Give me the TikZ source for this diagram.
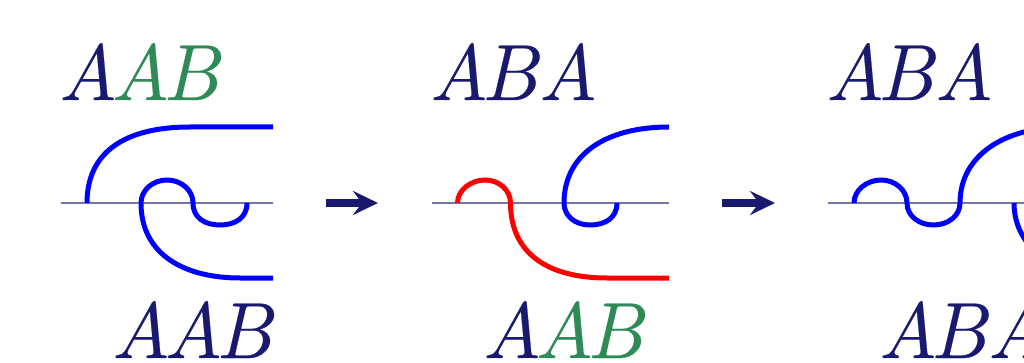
\documentclass[tikz,border=0pt]{standalone}
\usetikzlibrary{arrows.meta}
\definecolor{navyink}{HTML}{191970}
\definecolor{seaink}{HTML}{2E8B57}
\newcommand{\heavy}{\special{pdf:code 2 Tr 0.03 w}}
\tikzset{
  word/.style={anchor=base west,inner sep=0pt,outer sep=0pt,xscale=7.45,yscale=7.95,text=navyink},
  axisline/.style={draw=navyink,opacity=.6,line width=1.3pt},
  strand/.style={line width=5pt,line cap=butt},
  bluestrand/.style={strand,draw=blue},
  redstrand/.style={strand,draw=red},
  step arrow/.style={draw=navyink,line width=7.5pt,-{Stealth[length=25pt,width=24pt,inset=9pt,fill=navyink]}},
}
\newcommand{\gr}[1]{{\color{seaink}#1}}
\newcommand{\kk}{\kern-.47pt}
\begin{document}
\begin{tikzpicture}[x=1pt,y=-1pt]
\useasboundingbox (0,0) rectangle (1024,363);
\clip (0,0) rectangle (1024,363);
% words
\node[word] (t1) at (60,100) {\heavy$A\kk\gr{A\kk B}$};
\node[word] (b1) at (113,358) {\heavy$A\kk A\kk B$};
\node[word] (t2) at (431,100) {\heavy$A\kk B\kk A$};
\node[word] (b2) at (484,358) {\heavy$A\kk\gr{A\kk B}$};
\node[word] (t3) at (827,100) {\heavy$A\kk B\kk A$};
\node[word] (b3) at (880,358) {\heavy$A\kk B\kk A$};
% axes
\coordinate (a1l) at (61,203); \coordinate (a1r) at (273,203);
\coordinate (a2l) at (432,203); \coordinate (a2r) at (669,203);
\coordinate (a3l) at (828,203); \coordinate (a3r) at (1024,203);
\draw[axisline] (a1l) -- (a1r);
\draw[axisline] (a2l) -- (a2r);
\draw[axisline] (a3l) -- (a3r);
% panel 1
\draw[bluestrand] (87,203) .. controls (87,152) and (125,127) .. (190,127) -- (273,127);
\draw[bluestrand] (247,203) .. controls (247,218) and (235,225) .. (220,225)
  .. controls (205,225) and (193,218) .. (193,203)
  .. controls (193,190) and (181,180) .. (167,180)
  .. controls (153,180) and (141,190) .. (141,203)
  .. controls (141,255) and (185,278) .. (240,278) -- (273,278);
% panel 2
\draw[redstrand] (457.5,203) .. controls (457.5,190) and (471,180) .. (485,180)
  .. controls (499,180) and (510.5,190) .. (510.5,203)
  .. controls (510.5,255) and (550,278) .. (607,278) -- (669,278);
\draw[bluestrand] (617,203) .. controls (617,218) and (605,225) .. (590,225)
  .. controls (575,225) and (564,216) .. (564,203)
  .. controls (564,155) and (605,127) .. (669,127);
% panel 3
\draw[bluestrand] (854,203) .. controls (854,190) and (867,180) .. (881,180)
  .. controls (895,180) and (907,190) .. (907,203)
  .. controls (907,216) and (919,225) .. (933.5,225)
  .. controls (948,225) and (960,216) .. (960,203)
  .. controls (960,155) and (1005,127) .. (1065,127);
\draw[bluestrand] (1014,203) .. controls (1014,250) and (1060,278) .. (1110,278);
% arrows
\coordinate (s1) at (326,203); \coordinate (e1) at (378,203);
\coordinate (s2) at (722,203); \coordinate (e2) at (775,203);
\draw[step arrow] (s1) -- (e1);
\draw[step arrow] (s2) -- (e2);
\end{tikzpicture}
\end{document}
